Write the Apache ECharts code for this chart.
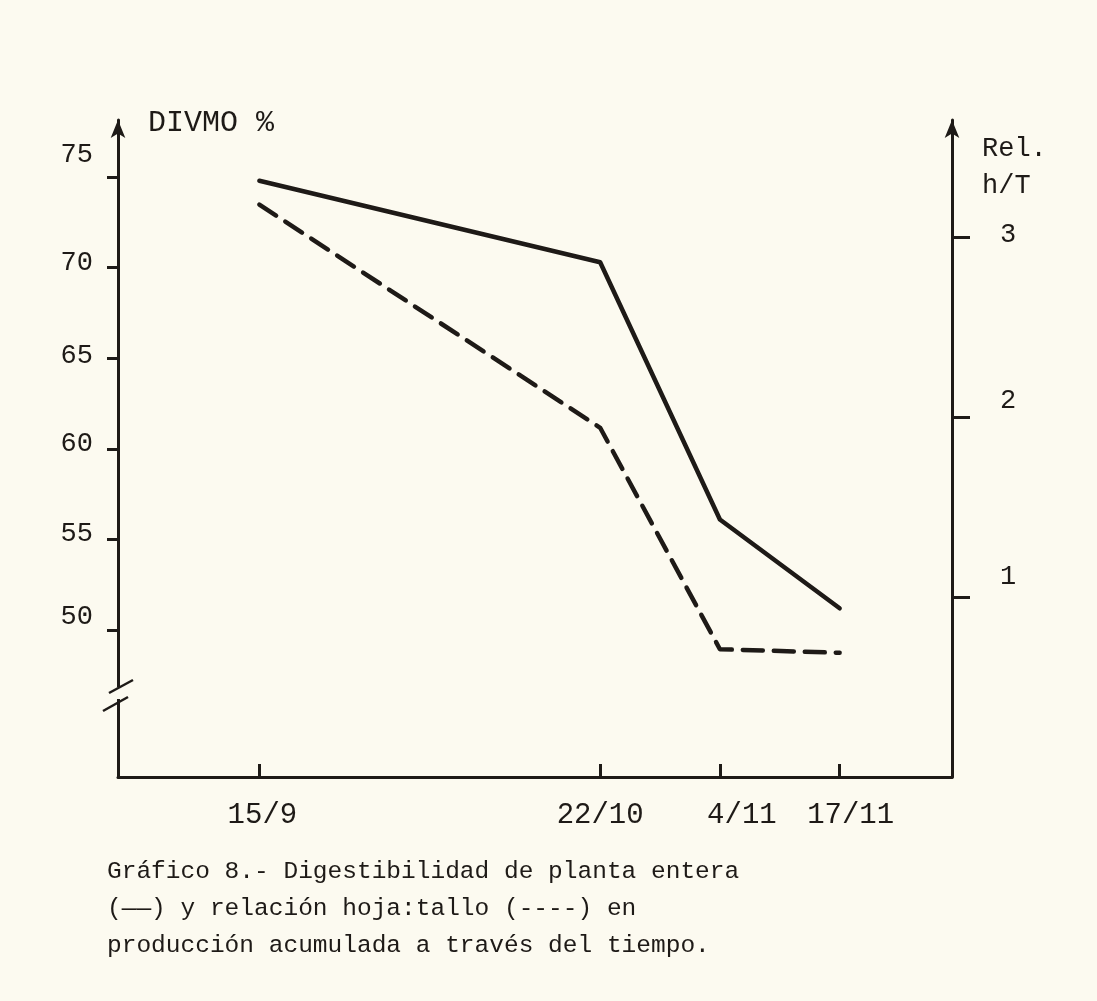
<!DOCTYPE html>
<html>
<head>
<meta charset="utf-8">
<script src="https://cdn.jsdelivr.net/npm/echarts@6/dist/echarts.min.js"></script>
<style>
  html, body { margin: 0; padding: 0; background: #fcfaf0; }
  #chart { width: 1097px; height: 1001px; }
</style>
</head>
<body>
<div id="chart"></div>
<script>
// Sampling dates and days elapsed since 15 September
const dateLabels = ['15/9', '22/10', '4/11', '17/11'];
const dayOffsets = [0, 37, 50, 63];

// Whole-plant digestibility (DIVMO %), left axis — solid line
const divmo = [74.8, 70.3, 56.1, 51.2];
// Leaf:stem ratio (Rel. h/T), right axis — dashed line
const relHT = [3.18, 1.94, 0.71, 0.69];

// Tick values shown on each axis
const divmoTicks = [50, 55, 60, 65, 70, 75];
const relTicks = [1, 2, 3];

const INK = '#1e1a17';
const PAPER = '#fcfaf0';
const MONO = '"Liberation Mono", "DejaVu Sans Mono", monospace';

// Typed labels sit a little off their tick marks; small per-label shifts
const xShift = { '15/9': 6, '22/10': 0, '4/11': 44, '17/11': 22 };
const leftLift = { 50: 26, 55: 12, 60: 10, 65: 4, 70: 10, 75: 44 };
const rightLift = { 1: 40, 2: 32, 3: 4 };

const xRich = {};
dateLabels.forEach((d, i) => {
  xRich['d' + i] = { padding: [0, 0, 0, xShift[d]], fontFamily: MONO, fontSize: 29, color: INK };
});
const leftRich = {};
divmoTicks.forEach(v => {
  leftRich['v' + v] = { padding: [0, 0, leftLift[v], 0], fontFamily: MONO, fontSize: 27, color: INK };
});
const rightRich = {};
relTicks.forEach(v => {
  rightRich['r' + v] = { padding: [0, 0, rightLift[v], 0], fontFamily: MONO, fontSize: 27, color: INK };
});

const chart = echarts.init(document.getElementById('chart'), null, { renderer: 'canvas' });

chart.setOption({
  backgroundColor: PAPER,
  animation: false,
  grid: { left: 118, right: 145, top: 120, bottom: 224, containLabel: false },
  xAxis: {
    type: 'value',
    min: -15.35,
    max: 75.2,
    axisLine: { show: true, onZero: false, lineStyle: { color: INK, width: 3 } },
    axisTick: { show: true, inside: true, length: 13, customValues: dayOffsets, lineStyle: { color: INK, width: 3 } },
    axisLabel: {
      show: true,
      customValues: dayOffsets,
      margin: 24,
      formatter: v => {
        const i = dayOffsets.indexOf(v);
        return i < 0 ? '' : '{d' + i + '|' + dateLabels[i] + '}';
      },
      rich: xRich
    },
    splitLine: { show: false }
  },
  yAxis: [
    {
      type: 'value',
      position: 'left',
      min: 41.89,
      max: 78.15,
      axisLine: { show: true, onZero: false, symbol: ['none', 'arrow'], symbolSize: [11, 18], lineStyle: { color: INK, width: 3 } },
      axisTick: { show: true, length: 11, customValues: divmoTicks, lineStyle: { color: INK, width: 3 } },
      axisLabel: {
        show: true,
        customValues: divmoTicks,
        margin: 25,
        formatter: v => '{v' + v + '|' + v + '}',
        rich: leftRich
      },
      splitLine: { show: false }
    },
    {
      type: 'value',
      position: 'right',
      min: 0,
      max: 3.65,
      axisLine: { show: true, onZero: false, symbol: ['none', 'arrow'], symbolSize: [11, 18], lineStyle: { color: INK, width: 3 } },
      axisTick: { show: true, length: 18, customValues: relTicks, lineStyle: { color: INK, width: 3 } },
      axisLabel: {
        show: true,
        customValues: relTicks,
        margin: 48,
        formatter: v => '{r' + v + '|' + v + '}',
        rich: rightRich
      },
      splitLine: { show: false }
    }
  ],
  series: [
    {
      name: 'DIVMO %',
      type: 'line',
      yAxisIndex: 0,
      data: dayOffsets.map((d, i) => [d, divmo[i]]),
      symbol: 'none',
      lineStyle: { color: INK, width: 4.5, cap: 'round', join: 'round' }
    },
    {
      name: 'Rel. h/T',
      type: 'line',
      yAxisIndex: 1,
      data: dayOffsets.map((d, i) => [d, relHT[i]]),
      symbol: 'none',
      lineStyle: { color: INK, width: 4.5, type: [20, 11], cap: 'round', join: 'round' }
    }
  ],
  graphic: [
    // Axis titles
    { type: 'text', left: 148, top: 108, style: { text: 'DIVMO %', fill: INK, font: '30px ' + MONO } },
    { type: 'text', left: 982, top: 130, style: { text: 'Rel.\nh/T', fill: INK, font: '27px ' + MONO, lineHeight: 37 } },
    // Break on the left axis
    { type: 'rect', z: 100, shape: { x: 110, y: 687, width: 16, height: 12 }, style: { fill: PAPER } },
    { type: 'line', z: 101, shape: { x1: 109, y1: 693, x2: 133, y2: 680 }, style: { stroke: INK, lineWidth: 2.5 } },
    { type: 'line', z: 101, shape: { x1: 103, y1: 711, x2: 128, y2: 697 }, style: { stroke: INK, lineWidth: 2.5 } },
    // Caption
    {
      type: 'text', left: 107, top: 853,
      style: {
        text: 'Gráfico 8.- Digestibilidad de planta entera\n(——) y relación hoja:tallo (----) en\nproducción acumulada a través del tiempo.',
        fill: INK, font: '24.5px ' + MONO, lineHeight: 37
      }
    }
  ]
});
</script>
</body>
</html>
